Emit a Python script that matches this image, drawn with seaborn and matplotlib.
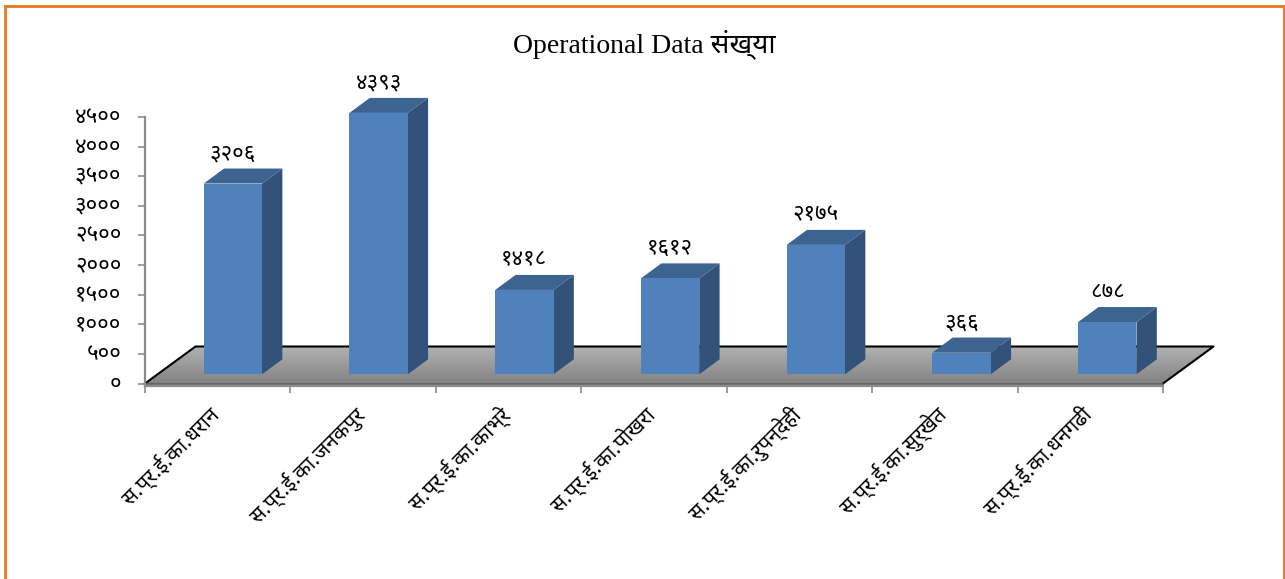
import matplotlib
matplotlib.use("Agg")
import matplotlib.pyplot as plt
from matplotlib.lines import Line2D
from matplotlib.patches import Polygon
from matplotlib.transforms import ScaledTranslation
import numpy as np
import pandas as pd
import seaborn as sns

categories = ["स.प्र.ई.का.धरान", "स.प्र.ई.का.जनकपुर", "स.प्र.ई.का.काभ्रे", "स.प्र.ई.का.पोखरा",
              "स.प्र.ई.का.रुपन्देही", "स.प्र.ई.का.सुर्खेत", "स.प्र.ई.का.धनगढी"]
values = [3206, 4393, 1418, 1612, 2175, 366, 878]
value_labels = ["३२०६", "४३९३", "१४१८", "१६१२", "२१७५", "३६६", "८७८"]
y_ticks = [0, 500, 1000, 1500, 2000, 2500, 3000, 3500, 4000, 4500]
y_tick_labels = ["०", "५००", "१०००", "१५००", "२०००", "२५००", "३०००", "३५००", "४०००", "४५००"]
title = "Operational Data संख्या"

W, H = 1285, 579
sns.set_theme(style="white")
plt.rcParams["font.family"] = ["Noto Sans", "DejaVu Sans"]

fig = plt.figure(figsize=(W / 100, H / 100), dpi=100, facecolor="white")


def rect(l, t, r, b):
    return [l / W, 1 - b / H, (r - l) / W, (b - t) / H]


GREY = "#8c8c8c"
PX_X = (1163 - 145) / 7          # pixels per category
PX_Y = 266.5 / 4500              # pixels per value unit, axis
PX_Y_BAR = 0.0595                # pixels per value unit, bars
YMIN = -42

back = fig.add_axes(rect(145, 117, 1163, 386))
bar_bottom = 374.3 + abs(YMIN) * PX_Y_BAR
front = fig.add_axes(rect(145 + 15.0, bar_bottom - (4500 - YMIN) * PX_Y_BAR,
                          1163 + 17.2, bar_bottom))
front.patch.set_alpha(0)

df = pd.DataFrame({"office": categories, "count": values})
sns.barplot(data=df, x="office", y="count", ax=front, color="#4f81bd",
            saturation=1, width=0.4, zorder=3, edgecolor="none", linewidth=0)
for ax in (back, front):
    ax.set_xlim(-0.5, 6.5)
    ax.set_ylim(YMIN, 4500)
front.axis("off")

# bar depth: side and top faces
dx, dy = 20.3 / PX_X, 15.0 / PX_Y_BAR
for bar, lab in zip(front.patches, value_labels):
    x0, x1 = bar.get_x(), bar.get_x() + bar.get_width()
    h = bar.get_height()
    bar.set_clip_on(False)
    front.add_patch(Polygon([(x1, 0), (x1 + dx, dy), (x1 + dx, h + dy), (x1, h)],
                            closed=True, fc="#325279", ec="none", clip_on=False, zorder=2))
    front.add_patch(Polygon([(x0, h), (x0 + dx, h + dy), (x1 + dx, h + dy), (x1, h)],
                            closed=True, fc="#3d6390", ec="none", clip_on=False, zorder=2))
    front.annotate(lab, ((x0 + x1) / 2, h + dy), xytext=(0, 15 * 0.72),
                   textcoords="offset points", ha="center", va="center",
                   fontsize=16, color="black", annotation_clip=False)

# floor
fdx, fdy = 50.5 / PX_X, 37 / PX_Y
corners = [(-0.5, 0), (-0.5 + fdx, fdy), (6.5 + fdx, fdy), (6.5, 0)]
grad = np.linspace(0, 1, 64).reshape(-1, 1)
img = back.imshow(grad, extent=(-0.5, 6.5 + fdx, 0, fdy), origin="lower", aspect="auto",
                  cmap=matplotlib.colors.LinearSegmentedColormap.from_list("f", ["#828282", "#b2b2b2"]),
                  zorder=1)
clip = Polygon(corners, closed=True, transform=back.transData, fc="none", ec="none")
back.add_patch(clip)
img.set_clip_path(clip)
img.set_clip_box(fig.bbox)
back.plot(*zip(*corners), color="black", lw=1.5, clip_on=False, zorder=2, solid_capstyle="projecting")
back.plot([-0.5, 6.5], [0, 0], color="#555555", lw=1.2, zorder=2, clip_on=False)
back.set_xlim(-0.5, 6.5)
back.set_ylim(YMIN, 4500)

# axes
sns.despine(ax=back)
for s in ("left", "bottom"):
    back.spines[s].set_color(GREY)
    back.spines[s].set_linewidth(1.6)
back.set_xticks(np.arange(-0.5, 7, 1))
back.set_xticklabels([])
back.set_xticks(range(7), minor=True)
back.set_xticklabels(categories, minor=True, rotation=45, ha="right", va="top",
                     rotation_mode="anchor", fontsize=15, color="black")
back.tick_params(axis="x", which="major", length=5, width=1.2, color=GREY, bottom=True)
back.tick_params(axis="x", which="minor", length=0, pad=12, bottom=True)
back.set_yticks(y_ticks)
back.set_yticklabels(y_tick_labels, fontsize=16, color="black")
back.tick_params(axis="y", length=5, width=1.2, color=GREY, pad=12, left=True)
back.set_xlabel("")
back.set_ylabel("")
back.grid(False)

x_shift = ScaledTranslation(-10.5 / 100, 0, fig.dpi_scale_trans)
for t in back.get_xticklabels(minor=True):
    t.set_transform(t.get_transform() + x_shift)
y_shift = ScaledTranslation(0, 2 / 100, fig.dpi_scale_trans)
for t in back.get_yticklabels():
    t.set_transform(t.get_transform() + y_shift)

fig.text(644 / W, 1 - 44 / H, title, ha="center", va="center", fontsize=20, color="black",
         family=["Liberation Serif", "Noto Sans"])

# orange frame
fig.add_artist(Line2D(np.array([4.5, 4.5, 1283.5, 1283.5]) / W,
                      1 - np.array([582, 6, 6, 582]) / H,
                      color="#e8761e", lw=2.0, solid_joinstyle="miter"))

fig.savefig("out.png", dpi=100)
